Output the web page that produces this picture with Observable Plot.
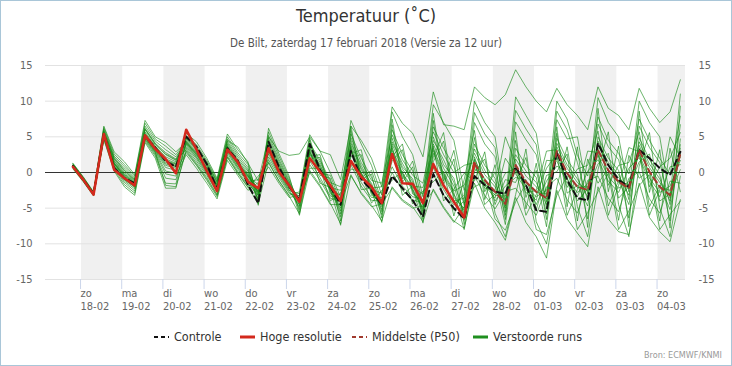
<!DOCTYPE html>
<html>
<head>
<meta charset="utf-8">
<script src="https://cdn.jsdelivr.net/npm/d3@7"></script>
<script src="https://cdn.jsdelivr.net/npm/@observablehq/plot@0.6"></script>
<style>
  body { margin: 0; background: #fff; }
  #wrap { position: relative; width: 732px; height: 366px; overflow: hidden; background: #fff;
          font-family: "DejaVu Sans Condensed", "DejaVu Sans", sans-serif; }
  #chart { position: absolute; left: 0; top: 0; }
  #frame { position: absolute; left: 0; top: 0; width: 732px; height: 366px; box-sizing: border-box;
           border: 1px solid #a9c6d8; pointer-events: none; }
  .title { position: absolute; left: 0; width: 732px; text-align: center; top: 5px; font-size: 18px; color: #333; }
  .subtitle { position: absolute; left: 0; width: 732px; text-align: center; top: 36px; font-size: 11.5px; color: #555; }
  .leg { position: absolute; top: 329px; font-size: 12.5px; color: #333; white-space: nowrap; height: 16px; line-height: 16px; }
  .leg svg { position: absolute; left: 0; top: 3px; }
  .leg span { position: absolute; top: 0; }
  .credit { position: absolute; right: 10px; top: 350px; font-size: 9px; color: #999; }
</style>
</head>
<body>
<div id="wrap">
  <div id="chart"></div>
  <div class="title">Temperatuur (˚C)</div>
  <div class="subtitle">De Bilt, zaterdag 17 februari 2018 (Versie za 12 uur)</div>
  <div id="legend"></div>
  <div class="credit">Bron: ECMWF/KNMI</div>
  <div id="frame"></div>
</div>
<script>
// ---- data -------------------------------------------------------------
// forecast steps: every 6 hours (local time), starting 17-02 19:00
const firstStep = "2018-02-17T19:00:00Z";
const stepHours = 6;
const nSteps = 60;

// x-axis ticks (one per day) and their labels
const tickDays = ["2018-02-18","2018-02-19","2018-02-20","2018-02-21","2018-02-22","2018-02-23","2018-02-24",
  "2018-02-25","2018-02-26","2018-02-27","2018-02-28","2018-03-01","2018-03-02","2018-03-03","2018-03-04"];
const tickLabels = ["zo\n18-02","ma\n19-02","di\n20-02","wo\n21-02","do\n22-02","vr\n23-02","za\n24-02",
  "zo\n25-02","ma\n26-02","di\n27-02","wo\n28-02","do\n01-03","vr\n02-03","za\n03-03","zo\n04-03"];
// shaded days
const shadedDays = ["2018-02-18","2018-02-20","2018-02-22","2018-02-24","2018-02-26","2018-02-28","2018-03-02","2018-03-04"];
const yTicks = [-15, -10, -5, 0, 5, 10, 15];

// Controle (control run), all steps
const control = [0.9,-1.0,-3.0,5.4,0.6,-0.8,-1.5,5.1,3.5,1.6,0.8,5.0,3.6,1.2,-2.3,3.4,1.7,-1.7,-4.3,4.3,
  0.8,-2.0,-3.8,4.0,0.4,-2.0,-4.5,3.0,-0.9,-2.5,-4.5,-0.5,-2.2,-3.9,-6.2,-0.2,-3.2,-5.0,-6.5,-0.5,
  -1.75,-2.7,-3.0,0.8,-1.75,-5.3,-5.5,2.9,-1.05,-3.6,-3.9,4.1,1.05,-1.05,-2.0,3.15,2.0,0.6,-0.35,2.9];
// Hoge resolutie (high resolution run), first 40 steps
const hres = [0.8,-1.0,-3.1,5.4,0.4,-0.8,-1.8,5.2,3.3,1.9,-0.1,6.0,3.2,0.2,-2.6,3.2,1.5,-1.3,-2.2,3.4,
  0.1,-1.8,-4.1,2.0,0.1,-1.8,-4.0,1.6,-0.6,-2.0,-4.3,2.6,-1.5,-1.6,-4.3,1.2,-1.8,-4.1,-6.3,1.3];
// Middelste (P50), from step 39 on
const p50Start = 39;
const p50 = [1.3,-1.05,-2.7,-4.4,1.05,-1.3,-2.7,-3.6,3.0,-0.1,-2.0,-2.45,3.15,0.3,-1.3,-2.2,3.15,0.1,-2.0,-3.2,2.6];

// Verstoorde runs: one row per step, one column per member
const ensemble = [
[1.3,0.5,1.0,0.8,0.9,0.7,1.2,0.9,0.9,1.2,0.7,1.0,0.9,1.1,0.6,0.8,1.0,0.8,1.0,0.8],
[-0.6,-1.3,-0.9,-1.1,-1.0,-1.2,-0.7,-1.0,-1.0,-0.7,-1.1,-0.9,-1.0,-0.8,-1.2,-1.0,-0.9,-1.1,-0.9,-1.1],
[-2.7,-3.3,-2.9,-3.1,-3.0,-3.2,-2.8,-3.0,-3.0,-2.8,-3.1,-3.0,-3.0,-2.9,-3.2,-3.0,-2.9,-3.1,-2.9,-3.1],
[6.5,4.6,5.6,5.1,5.3,4.9,6.1,5.3,5.4,6.3,5.0,5.5,5.3,5.9,4.7,5.2,5.7,5.1,5.8,5.0],
[2.9,0.2,1.7,1.0,1.3,0.6,2.3,1.2,1.4,2.6,0.8,1.6,1.3,2.1,0.4,1.2,1.9,0.9,2.0,0.9],
[1.5,-2.0,0.0,-0.8,-0.4,-1.4,0.8,-0.6,-0.3,1.1,-1.2,-0.2,-0.5,0.5,-1.7,-0.7,0.2,-1.0,0.3,-1.0],
[-0.3,-3.2,-1.2,-1.9,-1.5,-2.6,-0.7,-1.6,-1.4,-0.5,-2.3,-1.3,-1.5,-0.9,-2.9,-1.7,-1.1,-2.1,-1.0,-2.0],
[7.3,4.2,5.7,5.0,5.3,4.6,6.5,5.1,5.4,6.9,4.7,5.5,5.2,6.2,4.4,5.1,6.0,4.9,6.1,4.9],
[5.0,2.0,3.7,3.0,3.4,2.5,4.4,3.2,3.5,4.7,2.7,3.6,3.3,4.1,2.3,3.1,3.9,2.9,4.0,2.8],
[4.2,-2.2,2.2,0.7,1.6,-0.8,3.2,1.2,1.7,3.7,-0.2,1.9,1.4,2.8,-1.5,1.0,2.5,0.2,2.6,-1.8],
[2.9,-2.2,1.5,0.3,1.1,-1.0,2.2,0.8,1.2,2.5,-0.5,1.3,0.9,1.9,-1.6,0.6,1.7,-0.1,1.8,-2.0],
[4.3,3.4,5.2,2.8,4.7,4.0,4.2,5.5,3.6,4.5,2.5,5.0,4.2,3.8,4.4,4.8,3.2,4.1,4.9,3.0],
[2.7,1.6,3.9,1.0,3.2,2.2,2.5,4.3,1.9,3.0,0.6,3.6,2.6,2.1,2.8,3.4,1.3,2.4,3.5,1.1],
[0.6,-0.4,1.7,-1.1,1.0,0.2,0.5,2.0,-0.2,0.9,-1.5,1.5,0.6,0.0,0.7,1.2,-0.7,0.4,1.3,-0.9],
[-1.9,-2.8,-1.0,-3.4,-1.6,-2.2,-2.0,-0.8,-2.6,-1.7,-3.7,-1.2,-2.0,-2.4,-1.8,-1.4,-3.1,-2.1,-1.3,-3.2],
[3.7,2.7,5.0,2.1,4.2,3.3,3.5,5.4,2.9,4.0,1.7,4.7,3.6,3.1,3.8,4.4,2.4,3.4,4.5,2.2],
[1.4,0.5,2.8,-0.1,1.9,1.0,1.2,3.2,0.7,1.7,-0.4,2.5,1.3,0.8,1.5,2.2,0.2,1.1,3.6,0.0],
[-0.4,-1.5,1.1,-2.1,0.2,-0.9,-0.6,1.5,-1.3,-0.1,-2.5,0.7,-0.5,-1.0,-0.3,0.4,-1.8,-0.7,1.3,-2.0],
[-3.1,-3.2,-3.4,-0.5,-3.9,-2.6,-2.4,-4.2,-1.0,-2.9,-1.4,-4.6,-1.7,-3.7,-2.8,-2.7,-2.0,-2.2,-1.2,-4.4],
[3.7,2.2,5.7,1.3,4.5,3.1,3.5,6.2,2.6,4.2,0.8,5.2,3.6,2.9,3.9,4.8,1.8,3.3,5.0,1.5],
[0.7,-0.4,2.3,-1.1,1.3,0.2,0.5,2.7,-0.2,1.1,-1.5,1.9,0.6,0.0,0.9,1.6,-0.7,0.4,3.0,-1.2],
[-1.9,-2.7,-0.8,-3.2,-1.5,-2.2,-2.0,-0.5,-2.5,-1.6,-3.5,-1.1,-2.0,-2.4,-1.8,-1.3,-2.9,-2.1,2.4,-3.3],
[-4.3,-4.5,-4.7,-2.7,-5.2,-3.9,-3.8,-5.6,-3.0,-4.1,-3.2,-6.0,-3.4,-4.9,-4.0,-4.0,-3.5,-3.7,2.6,-5.8],
[2.0,4.1,3.1,5.3,1.1,3.4,0.0,3.8,4.8,2.6,3.6,1.6,4.5,2.9,2.8,0.6,3.2,2.3,5.0,0.3],
[2.1,1.7,-1.5,3.0,-1.1,1.1,-2.0,1.4,-0.1,0.2,0.9,-0.7,-0.4,0.5,0.3,0.6,0.7,2.5,3.0,-1.8],
[-3.0,-1.1,-2.1,0.0,-3.6,-1.9,-4.5,-1.4,-0.4,-2.5,-1.7,-3.3,-0.8,-2.3,-2.4,-4.0,-2.0,-2.7,2.5,-4.3],
[-3.9,-4.4,-2.5,-3.5,-4.1,-5.4,-4.5,-2.0,-4.2,-5.0,-5.8,-3.7,-6.8,-3.2,-7.4,-2.9,-6.2,-4.7,-1.0,-7.2],
[2.2,5.4,3.6,7.3,1.1,4.1,-0.3,4.9,6.5,3.0,4.5,1.7,5.9,3.4,3.2,0.5,3.8,2.6,6.5,-0.5],
[2.5,2.0,-2.4,4.0,-1.9,1.0,-3.0,1.4,-0.7,-0.4,0.6,-1.4,-1.0,-0.1,-0.2,0.1,0.4,3.2,4.5,-2.8],
[-3.2,-0.7,-2.2,1.0,-3.9,-1.8,-4.8,-1.1,0.3,-2.7,-1.5,-3.5,-0.2,-2.4,-2.5,-4.3,-2.0,-2.9,2.0,-4.6],
[-3.8,-4.3,-2.0,-3.2,-4.0,-5.2,-4.4,-1.5,-4.1,-4.8,-5.5,-3.5,-6.4,-2.9,-7.0,-2.5,-5.9,-4.6,-2.0,-6.8],
[1.6,6.0,3.7,8.5,0.0,4.3,-2.2,5.3,7.5,2.7,4.8,0.8,6.7,3.4,3.1,-1.1,4.0,2.2,9.2,-2.0],
[3.2,2.5,-3.2,5.0,-2.5,1.3,-4.0,1.8,-0.9,-0.6,0.8,-1.9,-1.4,-0.1,-0.3,0.2,0.5,4.0,6.9,-3.8],
[-3.0,0.2,-1.9,2.5,-3.9,-1.3,-5.0,-0.4,1.6,-2.4,-0.9,-3.4,0.8,-2.1,-2.2,-4.4,-1.6,-2.7,5.5,-4.8],
[-4.0,-4.6,-2.1,-3.4,-4.2,-5.4,-4.7,-1.5,-4.4,-5.1,-5.7,-3.8,-6.6,-3.0,-7.1,-2.6,-6.1,-4.9,2.2,-6.9],
[1.5,6.4,3.7,9.5,-0.2,4.5,-2.5,5.7,8.3,2.7,5.0,0.7,7.3,3.4,3.1,-1.3,4.0,2.1,11.3,-2.3],
[4.4,3.4,-4.0,7.0,-3.1,1.8,-5.0,2.5,-1.2,-0.7,1.1,-2.4,-1.7,-0.1,-0.4,0.2,0.6,5.6,6.7,-4.8],
[-4.0,0.9,-2.3,4.5,-5.3,-1.4,-7.0,0.0,3.1,-3.1,-0.8,-4.6,1.9,-2.6,-2.8,-6.1,-1.9,-3.5,6.5,-6.8],
[-3.6,-4.6,-0.1,-2.5,-4.0,-5.7,-4.8,1.0,-4.3,-5.3,-6.2,-3.1,-7.3,-1.8,-8.0,-1.0,-6.7,-5.0,6.0,-7.8],
[4.9,1.9,-1.2,3.3,8.4,0.6,4.0,1.4,-2.0,7.0,2.2,10.0,0.1,2.7,-0.5,5.9,1.1,1.7,12.0,-1.5],
[-2.7,-1.1,2.9,0.3,5.4,-0.8,1.0,-1.5,-1.3,4.0,-2.2,7.0,1.9,-0.3,-3.2,-3.8,-1.8,-4.5,10.5,-5.0],
[0.1,-2.8,-5.7,-1.5,3.5,-4.0,-0.8,-3.2,-6.5,2.2,-2.5,5.0,-4.5,-2.0,-5.1,1.1,-3.6,-3.0,9.5,-7.0],
[-6.0,-3.8,-9.0,-5.0,-5.5,-1.9,-7.3,-3.3,-8.1,-4.7,5.0,-4.2,-1.0,-4.5,-2.7,-6.6,2.0,-0.1,10.9,-9.5],
[4.5,0.9,-3.1,2.5,8.7,-0.7,3.4,0.3,-4.1,7.1,1.3,10.6,-1.4,1.9,-2.2,5.7,-0.2,0.6,14.4,-3.5],
[-3.5,-1.4,3.3,0.2,6.1,-1.0,1.0,-2.0,-1.6,4.6,-2.9,8.0,2.1,-0.5,-4.2,-5.1,-2.4,-6.0,12.0,-7.0],
[0.3,-2.8,-6.9,-1.4,3.9,-4.5,-0.7,-3.4,-8.0,2.5,-2.5,5.5,-5.2,-2.0,-6.0,1.3,-3.9,-3.1,10.0,-9.0],
[-5.8,-3.0,-10.0,-4.5,-5.1,-1.2,-7.6,-2.5,-8.7,-4.1,3.0,-3.4,-0.4,-3.7,-2.0,-6.6,1.7,0.6,8.5,-12.0],
[5.5,2.9,-2.0,4.1,8.6,0.9,4.8,2.1,-3.2,7.4,3.2,10.0,0.1,3.6,-0.8,6.4,1.6,2.6,11.8,-2.5],
[-2.9,-0.2,3.6,1.1,6.0,0.1,1.8,-0.9,-0.5,4.7,-2.1,7.5,2.6,0.6,-3.8,-4.8,-1.5,-6.0,9.5,-6.5],
[-1.8,-2.1,-4.8,-0.9,1.4,-4.0,-0.3,-2.8,-8.0,5.0,0.5,2.4,-6.8,-1.4,-5.7,3.6,-3.4,-2.4,8.0,-8.5],
[-4.7,-2.0,-9.0,-3.4,-4.0,-2.3,-6.5,-1.6,-5.6,-3.0,1.0,-0.5,1.9,-2.6,-1.1,-7.7,0.2,3.0,6.0,-10.4],
[3.4,3.1,0.4,4.4,6.8,1.2,5.0,2.4,-2.7,10.5,5.8,7.8,-1.5,3.9,-0.5,9.0,1.8,2.8,12.0,-2.0],
[-4.7,0.2,5.7,1.4,3.6,2.7,2.0,-0.6,-0.1,7.0,-1.8,4.5,0.5,0.9,-3.6,-2.7,-1.2,-6.0,9.0,-6.5],
[-1.1,-1.4,-4.5,-0.3,1.8,-3.6,0.3,-2.2,-8.0,5.0,1.0,2.7,-6.7,-0.7,-5.5,3.7,-2.8,-1.8,8.0,-8.3],
[-4.5,-1.7,-9.0,-3.2,-3.8,-2.0,-6.4,-1.3,-5.4,-2.7,1.4,-0.2,2.4,-2.3,-0.8,-7.6,0.6,3.5,6.0,-8.7],
[3.4,3.1,0.9,4.3,6.5,1.5,4.9,2.5,-1.8,10.0,5.7,7.5,-0.8,3.8,0.1,8.6,2.1,2.9,11.8,-1.5],
[-4.8,0.0,5.6,1.2,3.5,2.6,1.8,-0.8,-0.3,7.0,-2.0,4.5,0.3,0.7,-3.7,-2.8,-1.3,-6.0,9.0,-6.3],
[-1.8,-2.1,-5.0,-0.9,1.4,-4.0,-0.3,-2.8,-8.0,5.0,0.8,2.0,-6.8,-1.4,-5.7,3.2,-3.4,-2.4,7.0,-8.3],
[-5.2,-2.5,-9.0,-4.0,-4.5,-3.0,-6.8,-1.9,-5.9,-3.6,2.0,-0.3,3.4,-3.3,-1.2,-7.8,0.8,5.0,8.5,-9.7],
[2.9,2.5,-0.5,3.9,6.7,0.4,4.7,1.7,-4.0,11.0,5.6,7.9,-2.7,3.4,-1.5,9.3,1.1,2.1,13.0,-3.8]
];

// series colours / legend
const legendItems = [
  {name: "Controle", color: "#111", dash: "4,3", width: 2, left: 154},
  {name: "Hoge resolutie", color: "#d3291d", dash: null, width: 3, left: 240},
  {name: "Middelste (P50)", color: "#a13a2e", dash: "4,3", width: 2, left: 352},
  {name: "Verstoorde runs", color: "#1f8f1f", dash: null, width: 3, left: 473}
];

// ---- build tables -----------------------------------------------------
const HOUR = 3600 * 1000, DAY = 24 * HOUR;
const t0 = new Date(firstStep).getTime();
const times = d3.range(nSteps).map(i => new Date(t0 + i * stepHours * HOUR));
const ensData = [];
ensemble.forEach((row, i) => row.forEach((v, m) => ensData.push({t: times[i], v, m})));
const ctrlData = control.map((v, i) => ({t: times[i], v}));
const hresData = hres.map((v, i) => ({t: times[i], v}));
const p50Data = p50.map((v, i) => ({t: times[p50Start + i], v}));
const tickDates = tickDays.map(s => new Date(s + "T00:00:00Z"));
const labelOf = new Map(tickDates.map((d, i) => [d.getTime(), tickLabels[i]]));
const bands = shadedDays.map(s => ({a: new Date(s + "T00:00:00Z"), b: new Date(new Date(s + "T00:00:00Z").getTime() + DAY)}));

const xDomain = [new Date("2018-02-17T03:00:00Z"), new Date("2018-03-04T16:00:00Z")];

const chart = Plot.plot({
  width: 732, height: 366,
  marginLeft: 45, marginRight: 47, marginTop: 65, marginBottom: 87,
  style: {fontFamily: '"DejaVu Sans Condensed", "DejaVu Sans", sans-serif', fontSize: "11px", color: "#666", background: "transparent"},
  x: {type: "utc", domain: xDomain},
  y: {domain: [-15, 15]},
  marks: [
    Plot.rect(bands, {x1: "a", x2: "b", y1: -15, y2: 15, fill: "#f0f0f0", clip: true}),
    Plot.gridY(yTicks, {stroke: "#e2e2e2", strokeOpacity: 1}),
    Plot.axisY(yTicks, {anchor: "left", tickSize: 0, tickPadding: 13, tickFormat: d => String(d), color: "#666", label: null}),
    Plot.axisY(yTicks, {anchor: "right", tickSize: 0, tickPadding: 13, tickFormat: d => String(d), color: "#666", label: null}),
    Plot.axisX(tickDates, {anchor: "bottom", tickSize: 10, tickPadding: -2, stroke: "#ccd6eb", color: "#666",
      textAnchor: "start", dx: -1, lineHeight: 1.2, label: null,
      tickFormat: d => labelOf.get(d.getTime())}),
    Plot.ruleY([0], {stroke: "#333", strokeWidth: 1}),
    Plot.line(ensData, {x: "t", y: "v", z: "m", stroke: "#128812", strokeOpacity: 0.62, strokeWidth: 1}),
    Plot.line(ctrlData, {x: "t", y: "v", stroke: "#111", strokeWidth: 2, strokeDasharray: "6,4"}),
    Plot.line(hresData, {x: "t", y: "v", stroke: "#d3291d", strokeWidth: 2.6}),
    Plot.line(p50Data, {x: "t", y: "v", stroke: "#a13a2e", strokeWidth: 2, strokeDasharray: "6,4"})
  ]
});
document.getElementById("chart").appendChild(chart);

// legend
const leg = document.getElementById("legend");
legendItems.forEach(it => {
  const d = document.createElement("div");
  d.className = "leg";
  d.style.left = it.left + "px";
  d.innerHTML = `<svg width="16" height="10"><line x1="0" y1="5" x2="15" y2="5" stroke="${it.color}" stroke-width="${it.width}" ${it.dash ? `stroke-dasharray="${it.dash}"` : ""}/></svg><span style="left:20px">${it.name}</span>`;
  leg.appendChild(d);
});
</script>
</body>
</html>
